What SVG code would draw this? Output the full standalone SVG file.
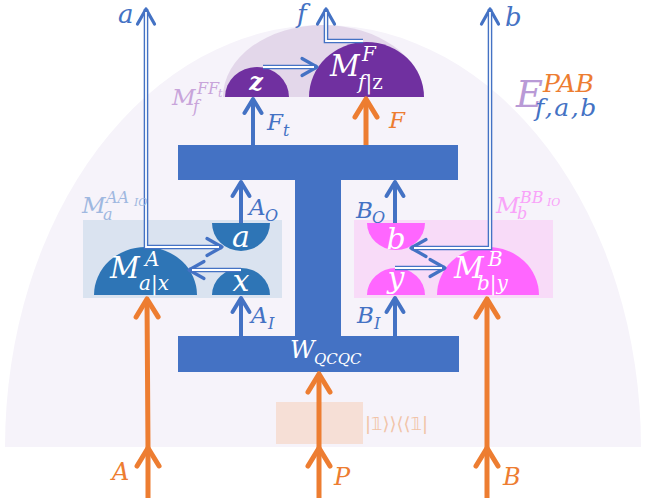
<svg xmlns="http://www.w3.org/2000/svg" width="646" height="502" viewBox="0 0 646 502">
<defs>
<style>
text{font-family:"DejaVu Serif","Liberation Serif",serif;font-style:italic}
.up{font-style:normal}
.w{fill:#fff}
.bl{fill:#4472c4}
.or{fill:#ed7d31}
.thick{stroke:#4472c4;stroke-width:4;fill:none}
.orange{stroke:#ed7d31;stroke-width:5;fill:none}
.dbl{stroke:#4472c4;stroke-width:4.6;fill:none;stroke-linejoin:miter}
.dblin{stroke:#fff;stroke-width:1.8;fill:none;stroke-linejoin:miter}
.bar{fill:#4472c4}
.nb{fill:#2e75b6}
.nm{fill:#ff66ff}
.np{fill:#7030a0}
</style>
<marker id="hb" markerUnits="userSpaceOnUse" orient="auto" overflow="visible" markerWidth="1" markerHeight="1" refX="0" refY="0"><path d="M-14,-8.5 L0,0 L-14,8.5" fill="none" stroke="#4472c4" stroke-width="4" stroke-linecap="round" stroke-linejoin="round"/></marker>
<marker id="hd" markerUnits="userSpaceOnUse" orient="auto-start-reverse" overflow="visible" markerWidth="1" markerHeight="1" refX="0" refY="0"><path d="M-15,-8.5 L0,0 L-15,8.5" fill="none" stroke="#4472c4" stroke-width="3.2" stroke-linecap="round" stroke-linejoin="round"/></marker>
<marker id="ho" markerUnits="userSpaceOnUse" orient="auto" overflow="visible" markerWidth="1" markerHeight="1" refX="0" refY="0"><path d="M-18,-11 L0,0 L-18,11" fill="none" stroke="#ed7d31" stroke-width="5" stroke-linecap="round" stroke-linejoin="round"/></marker>
</defs>

<g id="background">
<path d="M5,447 A318,422 0 0 1 641,447 Z" fill="#f6f3fa"/>
<path d="M223,97 A100,72 0 0 1 423,97 Z" fill="#e3d7ea"/>
<rect id="boxA" x="83" y="220" width="199" height="78" fill="#dae3f0"/>
<rect id="boxB" x="354" y="220" width="199" height="78" fill="#f8dbf8"/>
</g>

<g id="identity">
<rect x="276" y="402" width="87" height="42" fill="#f6dfd6"/>
<text x="365" y="430" font-size="18" fill="#f1c4a8" style="font-family:'DejaVu Sans',sans-serif;font-style:normal">|𝟙⟩⟩⟨⟨𝟙|</text>
</g>

<g id="W">
<rect class="bar" x="178" y="145" width="280" height="35"/>
<rect class="bar" x="295" y="179" width="46" height="158"/>
<rect class="bar" x="178" y="336" width="281" height="36"/>
<text font-size="24" class="w"><tspan x="290" y="358">W</tspan><tspan x="314" y="364" font-size="15">QCQC</tspan></text>
</g>

<g id="node-MA">
<path class="nb" d="M94,295 A51.5,48 0 0 1 197,295 Z"/>
<text font-size="29" class="w"><tspan x="110" y="278">M</tspan><tspan x="145" y="266" font-size="20">A</tspan><tspan x="139" y="290" font-size="20">a<tspan class="up">|</tspan>x</tspan></text>
</g>
<g id="node-a">
<path class="nb" d="M212,223 A29,28 0 0 0 270,223 Z"/>
<text x="241" y="247" font-size="30" class="w" text-anchor="middle">a</text>
</g>
<g id="node-x">
<path class="nb" d="M212,295 A29,27 0 0 1 270,295 Z"/>
<text x="241" y="291" font-size="30" class="w" text-anchor="middle">x</text>
</g>
<g id="node-b">
<path class="nm" d="M367,223 A29,27 0 0 0 425,223 Z"/>
<text x="396" y="249" font-size="30" class="w" text-anchor="middle">b</text>
</g>
<g id="node-y">
<path class="nm" d="M367,295 A29,27 0 0 1 425,295 Z"/>
<text x="396" y="288" font-size="30" class="w" text-anchor="middle">y</text>
</g>
<g id="node-MB">
<path class="nm" d="M437,295 A51,48 0 0 1 539,295 Z"/>
<text font-size="29" class="w"><tspan x="454" y="278">M</tspan><tspan x="488" y="266" font-size="20">B</tspan><tspan x="477" y="290" font-size="20">b<tspan class="up">|</tspan>y</tspan></text>
</g>
<g id="node-z">
<path class="np" d="M225,97 A32,30 0 0 1 289,97 Z"/>
<text x="256" y="90" font-size="24" class="w" text-anchor="middle" font-weight="bold">z</text>
</g>
<g id="node-MF">
<path class="np" d="M309,97 A57.5,55 0 0 1 424,97 Z"/>
<text font-size="29" class="w"><tspan x="330" y="76">M</tspan><tspan x="362" y="61" font-size="20">F</tspan><tspan x="358" y="89" font-size="20">f<tspan class="up">|z</tspan></tspan></text>
</g>

<g id="connectors">
<path class="dbl" d="M146,9 L146,247 L222,247" marker-start="url(#hd)" marker-end="url(#hd)"/>
<path class="dblin" d="M146,12 L146,247 L219,247"/>
<path class="dbl" d="M490,9 L490,248 L411,248" marker-start="url(#hd)" marker-end="url(#hd)"/>
<path class="dblin" d="M490,12 L490,248 L414,248"/>
<path class="dbl" d="M363,41 L326,41 L326,9" marker-end="url(#hd)"/>
<path class="dblin" d="M363,41 L326,41 L326,12"/>
<path class="dbl" d="M263,67 L317,67" marker-end="url(#hd)"/>
<path class="dblin" d="M263,67 L314,67"/>
<path class="dbl" d="M241,270 L189,270" marker-end="url(#hd)"/>
<path class="dblin" d="M241,270 L192,270"/>
<path class="dbl" d="M395,268 L445,268" marker-end="url(#hd)"/>
<path class="dblin" d="M395,268 L442,268"/>

<path class="thick" d="M241,223 L241,182" marker-end="url(#hb)"/>
<path class="thick" d="M241,336 L241,298" marker-end="url(#hb)"/>
<path class="thick" d="M395,223 L395,182" marker-end="url(#hb)"/>
<path class="thick" d="M395,336 L395,298" marker-end="url(#hb)"/>
<path class="thick" d="M253,145 L253,99" marker-end="url(#hb)"/>

<path class="orange" d="M366,145 L366,99" marker-end="url(#ho)"/>
<path class="orange" d="M148,498 L148,448 L147,299" marker-mid="url(#ho)" marker-end="url(#ho)"/>
<path class="orange" d="M319,498 L319,448 L319,374" marker-mid="url(#ho)" marker-end="url(#ho)"/>
<path class="orange" d="M487,498 L487,448 L487,299" marker-mid="url(#ho)" marker-end="url(#ho)"/>
</g>

<g id="labels">
<text x="118" y="23" font-size="26" class="bl">a</text>
<text x="297" y="23" font-size="26" class="bl">f</text>
<text x="505" y="26" font-size="26" class="bl">b</text>

<text font-size="37"><tspan x="516" y="107" fill="#b99ad6">E</tspan><tspan x="543" y="92" font-size="25" class="or">PAB</tspan><tspan x="535" y="116" font-size="25" class="bl" letter-spacing="1.5">f,a,b</tspan></text>

<text font-size="23" class="bl"><tspan x="267" y="130">F</tspan><tspan x="283" y="136" font-size="16">t</tspan></text>
<text x="389" y="128" font-size="23" class="or">F</text>

<text font-size="23" class="bl"><tspan x="249" y="215">A</tspan><tspan x="265" y="221" font-size="16">O</tspan></text>
<text font-size="23" class="bl"><tspan x="251" y="323">A</tspan><tspan x="268" y="329" font-size="16">I</tspan></text>
<text font-size="23" class="bl"><tspan x="356" y="218">B</tspan><tspan x="372" y="223" font-size="16">O</tspan></text>
<text font-size="23" class="bl"><tspan x="357" y="323">B</tspan><tspan x="374" y="329" font-size="16">I</tspan></text>

<text x="112" y="480" font-size="24" class="or">A</text>
<text x="334" y="485" font-size="24" class="or">P</text>
<text x="503" y="485" font-size="24" class="or">B</text>

<text font-size="23" fill="#9fb8e0"><tspan x="82" y="213">M</tspan><tspan x="106" y="203" font-size="16">AA</tspan><tspan x="134" y="206" font-size="11">IO</tspan><tspan x="103" y="220" font-size="16">a</tspan></text>
<text font-size="23" fill="#c8a4da"><tspan x="172" y="105">M</tspan><tspan x="197" y="94" font-size="16">FF</tspan><tspan x="218" y="97" font-size="11">t</tspan><tspan x="193" y="112" font-size="16">f</tspan></text>
<text font-size="23" fill="#f9a3f9"><tspan x="496" y="213">M</tspan><tspan x="520" y="203" font-size="16">BB</tspan><tspan x="547" y="206" font-size="11">IO</tspan><tspan x="517" y="219" font-size="16">b</tspan></text>
</g>
</svg>
